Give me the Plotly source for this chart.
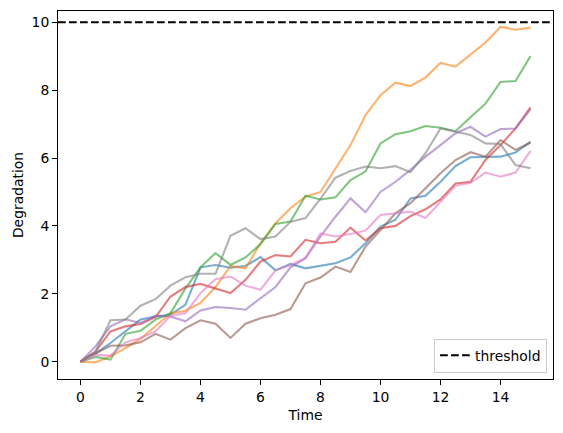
import plotly.graph_objects as go

time = [i * 0.5 for i in range(31)]

blue = [0, 0.24, 0.55, 0.89, 1.24, 1.33, 1.38, 1.68, 2.78, 2.85, 2.77, 2.82, 3.08, 2.69, 2.88, 2.75,
        2.82, 2.9, 3.07, 3.49, 3.98, 4.18, 4.81, 4.89, 5.3, 5.76, 6.02, 6.04, 6.04, 6.16, 6.48]
orange = [0, -0.02, 0.16, 0.4, 0.67, 1.04, 1.43, 1.5, 1.73, 2.2, 2.82, 2.75, 3.49, 4.08, 4.52, 4.86,
          5.0, 5.69, 6.38, 7.26, 7.85, 8.22, 8.12, 8.37, 8.8, 8.69, 9.05, 9.4, 9.86, 9.78, 9.84]
green = [0, 0.14, 0.06, 0.82, 0.91, 1.24, 1.43, 2.16, 2.78, 3.2, 2.85, 3.07, 3.46, 4.06, 4.13, 4.89,
         4.78, 4.84, 5.35, 5.6, 6.43, 6.7, 6.79, 6.94, 6.89, 6.79, 7.2, 7.6, 8.24, 8.27, 9.0]
red = [0, 0.3, 0.89, 1.04, 1.11, 1.31, 1.92, 2.2, 2.29, 2.16, 2.02, 2.41, 2.95, 3.14, 3.1, 3.59,
       3.49, 3.53, 3.95, 3.57, 3.93, 4.0, 4.29, 4.49, 4.78, 5.25, 5.3, 5.94, 6.38, 6.87, 7.49]
purple = [0, 0.45, 1.04, 1.25, 1.14, 1.35, 1.33, 1.19, 1.51, 1.61, 1.58, 1.53, 1.87, 2.2, 2.78, 3.05,
          3.69, 4.27, 4.81, 4.4, 5.0, 5.3, 5.65, 6.04, 6.38, 6.73, 6.92, 6.63, 6.85, 6.87, 7.43]
brown = [0, 0.25, 0.47, 0.48, 0.57, 0.82, 0.65, 0.99, 1.22, 1.12, 0.7, 1.12, 1.28, 1.38, 1.55, 2.31,
         2.48, 2.8, 2.64, 3.39, 3.88, 4.37, 4.67, 5.1, 5.55, 5.94, 6.17, 6.04, 6.53, 6.24, 6.45]
pink = [0, 0.2, 0.18, 0.57, 0.7, 0.89, 1.35, 1.43, 2.02, 2.43, 2.51, 2.24, 2.12, 2.69, 2.85, 3.05,
        3.78, 3.69, 3.76, 3.86, 4.32, 4.37, 4.42, 4.23, 4.71, 5.18, 5.27, 5.57, 5.45, 5.57, 6.21]
gray = [0, 0.3, 1.22, 1.24, 1.65, 1.84, 2.24, 2.49, 2.59, 2.59, 3.71, 3.93, 3.61, 3.69, 4.12, 4.23,
        4.8, 5.42, 5.62, 5.75, 5.7, 5.76, 5.58, 6.14, 6.87, 6.77, 6.68, 6.43, 6.41, 5.79, 5.7]

series = [blue, orange, green, red, purple, brown, pink, gray]
colors = ["#1f77b4", "#ff7f0e", "#2ca02c", "#d62728", "#9467bd", "#8c564b", "#e377c2", "#7f7f7f"]
threshold = 10

FONT = "DejaVu Sans"
FS = 13.9

fig = go.Figure()
for vals, c in zip(series, colors):
    fig.add_trace(go.Scatter(x=time, y=vals, mode="lines", line=dict(color=c, width=2.08),
                             opacity=0.6, showlegend=False, hoverinfo="skip"))

fig.add_trace(go.Scatter(x=[-0.75, 15.75], y=[threshold, threshold], mode="lines",
                         line=dict(color="black", width=2.08, dash="7.7px,3.3px"),
                         name="threshold", showlegend=True))

fig.update_layout(
    width=563, height=433,
    margin=dict(l=58.3, r=9.7, t=10.7, b=53.7),
    paper_bgcolor="white", plot_bgcolor="white",
    font=dict(family=FONT, size=FS, color="black"),
    legend=dict(x=0.988, y=0.017, xanchor="right", yanchor="bottom",
                bordercolor="#cccccc", borderwidth=1, bgcolor="rgba(255,255,255,0.8)",
                font=dict(family=FONT, size=FS), itemwidth=30,
                tracegroupgap=0),
)
axis_common = dict(showline=True, mirror=True, linecolor="black", linewidth=1.1,
                   ticks="outside", ticklen=4.86, tickwidth=1.1, tickcolor="black",
                   showgrid=False, zeroline=False,
                   tickfont=dict(family=FONT, size=FS, color="black"))
fig.update_xaxes(range=[-0.75, 15.75], tickmode="array", tickvals=[0, 2, 4, 6, 8, 10, 12, 14],
                 title=dict(text="Time", standoff=6, font=dict(family=FONT, size=FS)),
                 **axis_common)
fig.update_yaxes(range=[-0.51, 10.33], tickmode="array", tickvals=[0, 2, 4, 6, 8, 10],
                 title=dict(text="Degradation", standoff=4, font=dict(family=FONT, size=FS)),
                 **axis_common)

fig.write_html("out.html")
